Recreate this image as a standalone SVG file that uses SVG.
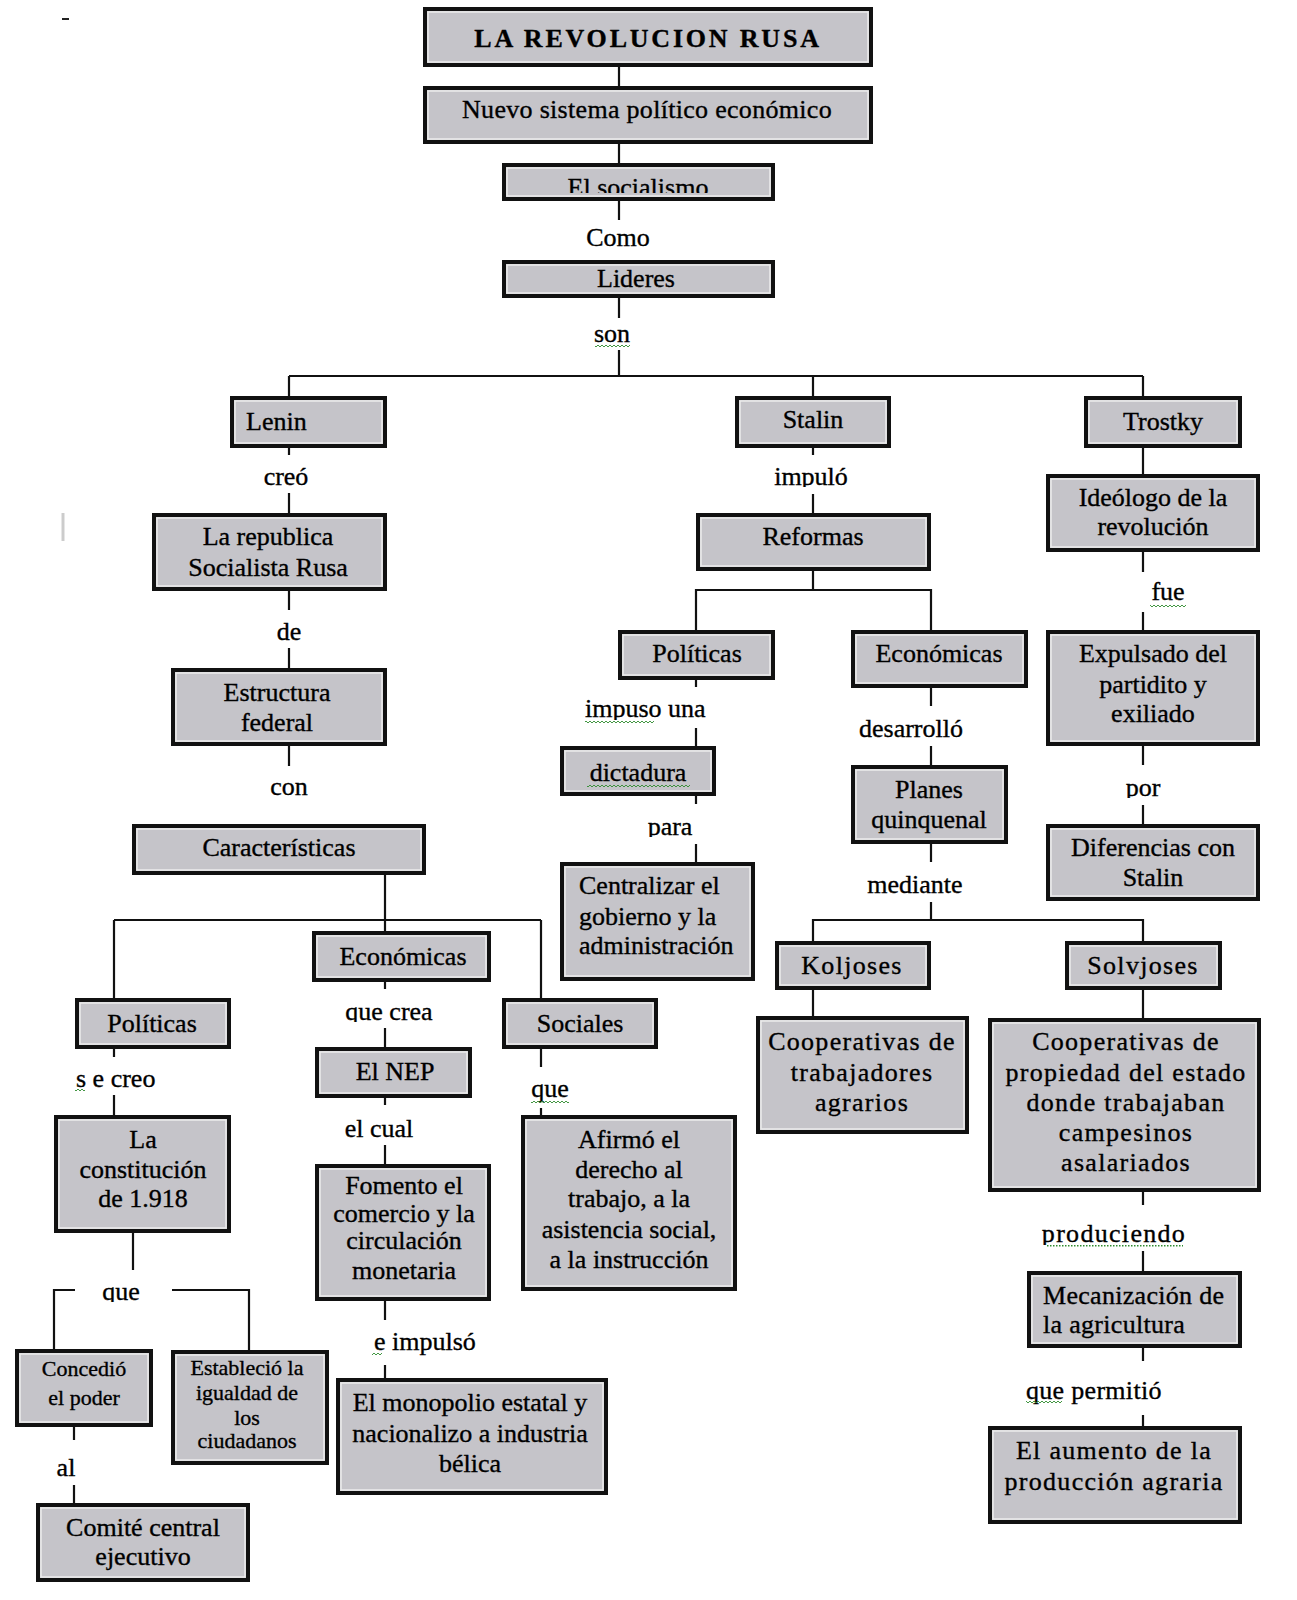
<svg xmlns="http://www.w3.org/2000/svg" width="1297" height="1600" viewBox="0 0 1297 1600">
<style>
.box{fill:#c5c4c9;stroke:#111;stroke-width:4}
.bev{fill:none;stroke:#ececec;stroke-width:1.5}
.t{font-family:"Liberation Serif","Times New Roman",serif;font-size:26px;fill:#000;stroke:#000;stroke-width:0.35;text-anchor:middle}
.s{text-anchor:start}
.sm{font-size:22px}
.w{letter-spacing:1.3px}
.c{fill:none;stroke:#111;stroke-width:2.2}
</style>
<defs>
<pattern id="sq" width="4" height="4" patternUnits="userSpaceOnUse"><path d="M0 3 L2 1 L4 3" fill="none" stroke="#2e8b2e" stroke-width="0.9"/></pattern>
<pattern id="dot" width="3" height="4" patternUnits="userSpaceOnUse"><rect x="0" y="1" width="1.5" height="1.5" fill="#2e8b2e"/></pattern>
<clipPath id="cSoc"><rect x="502" y="160" width="273" height="33"/></clipPath>
<clipPath id="cQue"><rect x="90" y="1270" width="70" height="32"/></clipPath>
<clipPath id="cQueCrea"><rect x="320" y="995" width="140" height="27"/></clipPath>
<clipPath id="cPor"><rect x="1110" y="770" width="70" height="28"/></clipPath>
<clipPath id="cPara"><rect x="630" y="810" width="80" height="27"/></clipPath>
<clipPath id="cImpulo"><rect x="750" y="458" width="120" height="29"/></clipPath>
<clipPath id="cImpuso"><rect x="575" y="690" width="150" height="30"/></clipPath>
<clipPath id="cProd"><rect x="1035" y="1215" width="160" height="30"/></clipPath>
</defs>

<g id="artifacts">
<line x1="62" y1="19" x2="69" y2="19" stroke="#222" stroke-width="2"/>
<line x1="63" y1="513" x2="63" y2="541" stroke="#ccc" stroke-width="3"/>
</g>

<g id="connectors" class="c">
<path d="M619 67V86 M619 144V163 M619 201V220 M619 298V318 M619 350V376 M289 376H1143 M289 376V396 M813 376V396 M1143 376V396"/>
<path d="M289 448V455 M289 493V513 M289 591V610 M289 648V668 M289 746V766"/>
<path d="M385 875V931 M114 920H541 M114 920V998 M541 920V998"/>
<path d="M385 982V989 M385 1028V1047 M385 1098V1105 M385 1145V1164 M385 1301V1320 M385 1365V1378"/>
<path d="M114 1049V1057 M114 1095V1115 M133 1233V1270 M54 1349V1290H75 M172 1290H249V1350 M74 1427V1440 M74 1485V1503"/>
<path d="M541 1049V1067 M541 1108V1115"/>
<path d="M813 448V455 M813 494V513 M813 571V590 M696 630V590H931V630"/>
<path d="M696 680V687 M696 728V746 M696 796V804 M696 844V862"/>
<path d="M931 688V706 M931 746V765 M931 844V862 M931 902V920 M813 941V920H1143V941 M813 990V1016 M1143 990V1018"/>
<path d="M1143 1192V1205 M1143 1251V1271 M1143 1348V1361 M1143 1415V1426"/>
<path d="M1143 448V474 M1143 552V572 M1143 612V630 M1143 746V765 M1143 805V824"/>
</g>

<g id="labels">
<text class="t" x="618" y="246" font-size="24">Como</text>
<text class="t" x="612" y="342" font-size="24">son</text>
<rect x="595" y="344" width="35" height="4" fill="url(#sq)"/>
<text class="t" x="286" y="485">creó</text>
<text class="t" x="289" y="640">de</text>
<text class="t" x="289" y="795">con</text>
<text class="t" x="389" y="1020" clip-path="url(#cQueCrea)">que crea</text>
<text class="t" x="379" y="1137">el cual</text>
<text class="t s" x="374" y="1350">e impulsó</text>
<rect x="372" y="1352" width="10" height="4" fill="url(#sq)"/>
<text class="t s" x="76" y="1087">s e creo</text>
<rect x="75" y="1088" width="10" height="4" fill="url(#sq)"/>
<text class="t" x="121" y="1300" clip-path="url(#cQue)">que</text>
<text class="t" x="66" y="1476">al</text>
<text class="t" x="550" y="1097">que</text>
<rect x="531" y="1100" width="38" height="4" fill="url(#sq)"/>
<text class="t" x="811" y="485" clip-path="url(#cImpulo)">impuló</text>
<text class="t s" x="585" y="717" clip-path="url(#cImpuso)">impuso una</text>
<rect x="585" y="720" width="69" height="4" fill="url(#sq)"/>
<text class="t" x="670" y="835" clip-path="url(#cPara)">para</text>
<text class="t" x="911" y="737">desarrolló</text>
<text class="t" x="915" y="893">mediante</text>
<text class="t w" x="1114" y="1242" clip-path="url(#cProd)">produciendo</text>
<rect x="1046" y="1244" width="137" height="4" fill="url(#dot)"/>
<text class="t" x="1026" y="1399" style="text-anchor:start;letter-spacing:0.3px">que permitió</text>
<rect x="1026" y="1400" width="36" height="4" fill="url(#sq)"/>
<text class="t" x="1168" y="600">fue</text>
<rect x="1150" y="604" width="36" height="4" fill="url(#sq)"/>
<text class="t" x="1143" y="796" clip-path="url(#cPor)">por</text>
</g>

<g id="n-title"><rect class="box" x="425" y="9" width="446" height="56"/><rect class="bev" x="428" y="12" width="440" height="50"/>
<text class="t" x="648" y="47" font-size="34" font-weight="bold" letter-spacing="2.8">LA REVOLUCION RUSA</text></g>
<g id="n-nuevo"><rect class="box" x="425" y="88" width="446" height="54"/><rect class="bev" x="428" y="91" width="440" height="48"/>
<text class="t" x="647" y="118" letter-spacing="0.3">Nuevo sistema político económico</text></g>
<g id="n-socialismo"><rect class="box" x="504" y="165" width="269" height="34"/><rect class="bev" x="507" y="168" width="263" height="28"/>
<text class="t" x="638" y="196" clip-path="url(#cSoc)">El socialismo</text></g>
<g id="n-lideres"><rect class="box" x="504" y="262" width="269" height="34"/><rect class="bev" x="507" y="265" width="263" height="28"/>
<text class="t" x="636" y="287" font-size="23">Lideres</text></g>

<g id="n-lenin"><rect class="box" x="232" y="398" width="153" height="48"/><rect class="bev" x="235" y="401" width="147" height="42"/>
<text class="t s" x="246" y="430">Lenin</text></g>
<g id="n-stalin"><rect class="box" x="737" y="398" width="152" height="48"/><rect class="bev" x="740" y="401" width="146" height="42"/>
<text class="t" x="813" y="428" font-size="22">Stalin</text></g>
<g id="n-trostky"><rect class="box" x="1086" y="398" width="154" height="48"/><rect class="bev" x="1089" y="401" width="148" height="42"/>
<text class="t" x="1163" y="430">Trostky</text></g>

<g id="n-republica"><rect class="box" x="154" y="515" width="231" height="74"/><rect class="bev" x="157" y="518" width="225" height="68"/>
<text class="t" x="268" y="545">La republica</text><text class="t" x="268" y="576">Socialista Rusa</text></g>
<g id="n-estructura"><rect class="box" x="173" y="670" width="212" height="74"/><rect class="bev" x="176" y="673" width="206" height="68"/>
<text class="t" x="277" y="701">Estructura</text><text class="t" x="277" y="731">federal</text></g>
<g id="n-caracteristicas"><rect class="box" x="134" y="826" width="290" height="47"/><rect class="bev" x="137" y="829" width="284" height="41"/>
<text class="t" x="279" y="856">Características</text></g>
<g id="n-economicas-l"><rect class="box" x="314" y="933" width="175" height="47"/><rect class="bev" x="317" y="936" width="169" height="41"/>
<text class="t" x="403" y="965">Económicas</text></g>
<g id="n-politicas-l"><rect class="box" x="77" y="1000" width="152" height="47"/><rect class="bev" x="80" y="1003" width="146" height="41"/>
<text class="t" x="152" y="1032">Políticas</text></g>
<g id="n-sociales"><rect class="box" x="504" y="1000" width="152" height="47"/><rect class="bev" x="507" y="1003" width="146" height="41"/>
<text class="t" x="580" y="1032">Sociales</text></g>
<g id="n-nep"><rect class="box" x="317" y="1049" width="153" height="47"/><rect class="bev" x="320" y="1052" width="147" height="41"/>
<text class="t" x="395" y="1080">El NEP</text></g>
<g id="n-fomento"><rect class="box" x="317" y="1166" width="172" height="133"/><rect class="bev" x="320" y="1169" width="166" height="127"/>
<text class="t" x="404" y="1194" font-size="24">Fomento el</text><text class="t" x="404" y="1222" font-size="24">comercio y la</text><text class="t" x="404" y="1249" font-size="24">circulación</text><text class="t" x="404" y="1279" font-size="24">monetaria</text></g>
<g id="n-monopolio"><rect class="box" x="338" y="1380" width="268" height="113"/><rect class="bev" x="341" y="1383" width="262" height="107"/>
<text class="t" x="470" y="1411" font-size="25">El monopolio estatal y</text><text class="t" x="470" y="1442" font-size="25">nacionalizo a industria</text><text class="t" x="470" y="1472" font-size="25">bélica</text></g>
<g id="n-constitucion"><rect class="box" x="56" y="1117" width="173" height="114"/><rect class="bev" x="59" y="1120" width="167" height="108"/>
<text class="t" x="143" y="1148">La</text><text class="t" x="143" y="1178">constitución</text><text class="t" x="143" y="1207">de 1.918</text></g>
<g id="n-concedio"><rect class="box" x="17" y="1351" width="134" height="74"/><rect class="bev" x="20" y="1354" width="128" height="68"/>
<text class="t sm" x="84" y="1376">Concedió</text><text class="t sm" x="84" y="1405">el poder</text></g>
<g id="n-comite"><rect class="box" x="38" y="1505" width="210" height="75"/><rect class="bev" x="41" y="1508" width="204" height="69"/>
<text class="t" x="143" y="1536">Comité central</text><text class="t" x="143" y="1565">ejecutivo</text></g>
<g id="n-establecio"><rect class="box" x="173" y="1352" width="154" height="111"/><rect class="bev" x="176" y="1355" width="148" height="105"/>
<text class="t sm" x="247" y="1375">Estableció la</text><text class="t sm" x="247" y="1400">igualdad de</text><text class="t sm" x="247" y="1425">los</text><text class="t sm" x="247" y="1448">ciudadanos</text></g>
<g id="n-afirmo"><rect class="box" x="523" y="1117" width="212" height="172"/><rect class="bev" x="526" y="1120" width="206" height="166"/>
<text class="t" x="629" y="1148">Afirmó el</text><text class="t" x="629" y="1178">derecho al</text><text class="t" x="629" y="1207">trabajo, a la</text><text class="t" x="629" y="1238">asistencia social,</text><text class="t" x="629" y="1268">a la instrucción</text></g>

<g id="n-reformas"><rect class="box" x="698" y="515" width="231" height="54"/><rect class="bev" x="701" y="518" width="225" height="48"/>
<text class="t" x="813" y="545">Reformas</text></g>
<g id="n-politicas-r"><rect class="box" x="620" y="632" width="153" height="46"/><rect class="bev" x="623" y="635" width="147" height="40"/>
<text class="t" x="697" y="662">Políticas</text></g>
<g id="n-economicas-r"><rect class="box" x="853" y="632" width="173" height="54"/><rect class="bev" x="856" y="635" width="167" height="48"/>
<text class="t" x="939" y="662">Económicas</text></g>
<g id="n-dictadura"><rect class="box" x="562" y="748" width="152" height="46"/><rect class="bev" x="565" y="751" width="146" height="40"/>
<text class="t" x="638" y="781">dictadura</text><rect x="587" y="784" width="103" height="4" fill="url(#sq)"/></g>
<g id="n-centralizar"><rect class="box" x="562" y="864" width="191" height="115"/><rect class="bev" x="565" y="867" width="185" height="109"/>
<text class="t s" x="579" y="894">Centralizar el</text><text class="t s" x="579" y="925">gobierno y la</text><text class="t s" x="579" y="954">administración</text></g>
<g id="n-planes"><rect class="box" x="853" y="767" width="153" height="75"/><rect class="bev" x="856" y="770" width="147" height="69"/>
<text class="t" x="929" y="798">Planes</text><text class="t" x="929" y="828">quinquenal</text></g>
<g id="n-koljoses"><rect class="box" x="777" y="943" width="152" height="45"/><rect class="bev" x="780" y="946" width="146" height="39"/>
<text class="t w" x="852" y="974">Koljoses</text></g>
<g id="n-solvjoses"><rect class="box" x="1067" y="943" width="153" height="45"/><rect class="bev" x="1070" y="946" width="147" height="39"/>
<text class="t w" x="1143" y="974">Solvjoses</text></g>
<g id="n-coop-a"><rect class="box" x="758" y="1018" width="209" height="114"/><rect class="bev" x="761" y="1021" width="203" height="108"/>
<text class="t w" x="862" y="1050">Cooperativas de</text><text class="t w" x="862" y="1081">trabajadores</text><text class="t w" x="862" y="1111">agrarios</text></g>
<g id="n-coop-b"><rect class="box" x="990" y="1020" width="269" height="170"/><rect class="bev" x="993" y="1023" width="263" height="164"/>
<text class="t w" x="1126" y="1050">Cooperativas de</text><text class="t w" x="1126" y="1081">propiedad del estado</text><text class="t w" x="1126" y="1111">donde trabajaban</text><text class="t w" x="1126" y="1141">campesinos</text><text class="t w" x="1126" y="1171">asalariados</text></g>
<g id="n-mecanizacion"><rect class="box" x="1029" y="1273" width="211" height="73"/><rect class="bev" x="1032" y="1276" width="205" height="67"/>
<text class="t s" x="1043" y="1304" letter-spacing="0.3">Mecanización de</text><text class="t s" x="1043" y="1333" letter-spacing="0.3">la agricultura</text></g>
<g id="n-aumento"><rect class="box" x="990" y="1428" width="250" height="94"/><rect class="bev" x="993" y="1431" width="244" height="88"/>
<text class="t w" x="1114" y="1459">El aumento de la</text><text class="t w" x="1114" y="1490">producción agraria</text></g>

<g id="n-ideologo"><rect class="box" x="1048" y="476" width="210" height="74"/><rect class="bev" x="1051" y="479" width="204" height="68"/>
<text class="t" x="1153" y="506">Ideólogo de la</text><text class="t" x="1153" y="535">revolución</text></g>
<g id="n-expulsado"><rect class="box" x="1048" y="632" width="210" height="112"/><rect class="bev" x="1051" y="635" width="204" height="106"/>
<text class="t" x="1153" y="662">Expulsado del</text><text class="t" x="1153" y="693">partidito y</text><text class="t" x="1153" y="722">exiliado</text></g>
<g id="n-diferencias"><rect class="box" x="1048" y="826" width="210" height="73"/><rect class="bev" x="1051" y="829" width="204" height="67"/>
<text class="t" x="1153" y="856">Diferencias con</text><text class="t" x="1153" y="886">Stalin</text></g>
</svg>
